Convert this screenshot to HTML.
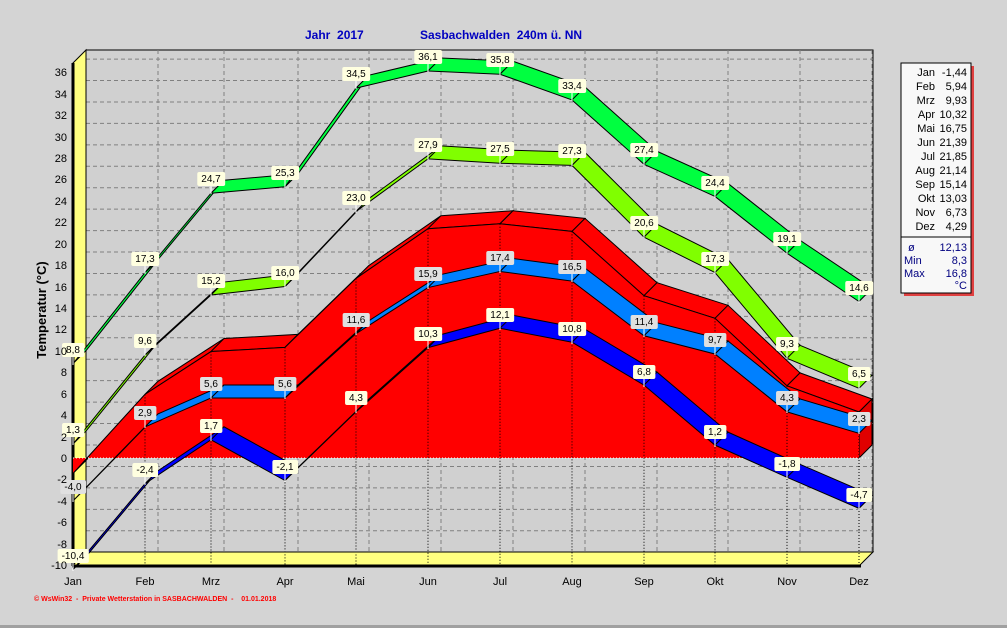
<!DOCTYPE html>
<html><head><meta charset="utf-8"><style>
html,body{margin:0;padding:0;background:#d4d4d4;}
svg{display:block;font-family:"Liberation Sans",sans-serif;}
.lb{font-size:10px;text-anchor:middle;}
.ax{font-size:11px;}
</style></head><body>
<svg id="s" width="1007" height="628" xmlns="http://www.w3.org/2000/svg">
<rect x="0" y="0" width="1007" height="628" fill="#d4d4d4"/>
<rect x="0" y="625" width="1007" height="3" fill="#a0a0a0"/>
<rect x="86" y="50" width="787" height="502" fill="#d0d0d0" stroke="#000" stroke-width="1"/>
<g id="grid" stroke="#808080" stroke-dasharray="4,3" stroke-width="1"></g>
<polygon points="73,63 86,50 86,552 73,565" fill="#ffff80" stroke="#000"/>
<polygon points="73,565 86,552 873,552 860,565" fill="#ffff80" stroke="#000"/>
<line x1="73" y1="63" x2="73" y2="566" stroke="#000" stroke-width="3"/>
<line x1="72" y1="566" x2="861" y2="566" stroke="#000" stroke-width="3"/>
<g id="series"></g>
<g id="labels">
<text class="lb" x="73" y="353">8,8</text><text class="lb" x="145" y="262">17,3</text><text class="lb" x="211" y="182">24,7</text><text class="lb" x="285" y="176">25,3</text><text class="lb" x="356" y="77">34,5</text><text class="lb" x="428" y="60">36,1</text><text class="lb" x="500" y="63">35,8</text><text class="lb" x="572" y="89">33,4</text><text class="lb" x="644" y="153">27,4</text><text class="lb" x="715" y="186">24,4</text><text class="lb" x="787" y="242">19,1</text><text class="lb" x="859" y="291">14,6</text>
<text class="lb" x="73" y="433">1,3</text><text class="lb" x="145" y="344">9,6</text><text class="lb" x="211" y="284">15,2</text><text class="lb" x="285" y="276">16,0</text><text class="lb" x="356" y="201">23,0</text><text class="lb" x="428" y="148">27,9</text><text class="lb" x="500" y="152">27,5</text><text class="lb" x="572" y="154">27,3</text><text class="lb" x="644" y="226">20,6</text><text class="lb" x="715" y="262">17,3</text><text class="lb" x="787" y="347">9,3</text><text class="lb" x="859" y="377">6,5</text>
<text class="lb g" x="73" y="490">-4,0</text><text class="lb g" x="145" y="416">2,9</text><text class="lb g" x="211" y="387">5,6</text><text class="lb g" x="285" y="387">5,6</text><text class="lb g" x="356" y="323">11,6</text><text class="lb g" x="428" y="277">15,9</text><text class="lb g" x="500" y="261">17,4</text><text class="lb g" x="572" y="270">16,5</text><text class="lb g" x="644" y="325">11,4</text><text class="lb g" x="715" y="343">9,7</text><text class="lb g" x="787" y="401">4,3</text><text class="lb g" x="859" y="422">2,3</text>
<text class="lb" x="73" y="559">-10,4</text><text class="lb" x="145" y="473">-2,4</text><text class="lb" x="211" y="429">1,7</text><text class="lb" x="285" y="470">-2,1</text><text class="lb" x="356" y="401">4,3</text><text class="lb" x="428" y="337">10,3</text><text class="lb" x="500" y="318">12,1</text><text class="lb" x="572" y="332">10,8</text><text class="lb" x="644" y="375">6,8</text><text class="lb" x="715" y="435">1,2</text><text class="lb" x="787" y="467">-1,8</text><text class="lb" x="859" y="498">-4,7</text>
</g>
<g class="ax" text-anchor="end">
<text x="67" y="76">36</text><text x="67" y="98">34</text><text x="67" y="119">32</text><text x="67" y="141">30</text><text x="67" y="162">28</text><text x="67" y="183">26</text><text x="67" y="205">24</text><text x="67" y="226">22</text><text x="67" y="248">20</text><text x="67" y="269">18</text><text x="67" y="291">16</text><text x="67" y="312">14</text><text x="67" y="333">12</text><text x="67" y="355">10</text><text x="67" y="376">8</text><text x="67" y="398">6</text><text x="67" y="419">4</text><text x="67" y="441">2</text><text x="67" y="462">0</text><text x="67" y="483">-2</text><text x="67" y="505">-4</text><text x="67" y="526">-6</text><text x="67" y="548">-8</text><text x="67" y="569">-10</text>
</g>
<g class="ax" text-anchor="middle">
<text x="73" y="585">Jan</text><text x="145" y="585">Feb</text><text x="211" y="585">Mrz</text><text x="285" y="585">Apr</text><text x="356" y="585">Mai</text><text x="428" y="585">Jun</text><text x="500" y="585">Jul</text><text x="572" y="585">Aug</text><text x="644" y="585">Sep</text><text x="715" y="585">Okt</text><text x="787" y="585">Nov</text><text x="859" y="585">Dez</text>
</g>
<text x="46" y="310" transform="rotate(-90 46 310)" text-anchor="middle" font-size="13" font-weight="bold">Temperatur  (°C)</text>
<text x="305" y="39" font-size="12" font-weight="bold" fill="#0000c0" xml:space="preserve">Jahr  2017</text>
<text x="420" y="39" font-size="12" font-weight="bold" fill="#0000c0" xml:space="preserve">Sasbachwalden  240m ü. NN</text>
<text x="34" y="601" font-size="7" font-weight="bold" fill="#ff0000" xml:space="preserve">© WsWin32  -  Private Wetterstation in SASBACHWALDEN  -    01.01.2018</text>
<rect x="904" y="66" width="70" height="230" fill="#e04040"/>
<rect x="901" y="63" width="70" height="230" fill="#f8f8f8" stroke="#000"/>
<line x1="901" y1="237" x2="971" y2="237" stroke="#000"/>
<g font-size="11" text-anchor="end">
<text x="935" y="76">Jan</text><text x="967" y="76">-1,44</text>
<text x="935" y="90">Feb</text><text x="967" y="90">5,94</text>
<text x="935" y="104">Mrz</text><text x="967" y="104">9,93</text>
<text x="935" y="118">Apr</text><text x="967" y="118">10,32</text>
<text x="935" y="132">Mai</text><text x="967" y="132">16,75</text>
<text x="935" y="146">Jun</text><text x="967" y="146">21,39</text>
<text x="935" y="160">Jul</text><text x="967" y="160">21,85</text>
<text x="935" y="174">Aug</text><text x="967" y="174">21,14</text>
<text x="935" y="188">Sep</text><text x="967" y="188">15,14</text>
<text x="935" y="202">Okt</text><text x="967" y="202">13,03</text>
<text x="935" y="216">Nov</text><text x="967" y="216">6,73</text>
<text x="935" y="230">Dez</text><text x="967" y="230">4,29</text>
</g>
<g font-size="11" fill="#000080">
<text x="908" y="251">ø</text><text x="904" y="264">Min</text><text x="904" y="277">Max</text>
<g text-anchor="end"><text x="967" y="251">12,13</text><text x="967" y="264">8,3</text><text x="967" y="277">16,8</text><text x="967" y="289">°C</text></g>
</g>
</svg>
<script>
var NS="http://www.w3.org/2000/svg";
var X=[73,145,211,285,356,428,500,572,644,715,787,859];
function Y(v){return 458-10.72*v;}
function el(t,a,p){var e=document.createElementNS(NS,t);for(var k in a)e.setAttribute(k,a[k]);p.appendChild(e);return e;}
var g=document.getElementById('grid');
for(var v=-8;v<=36;v+=2){var y=Y(v)-13;el('line',{x1:86,y1:y,x2:873,y2:y},g);}
for(var i=1;i<12;i++){el('line',{x1:X[i]+13,y1:50,x2:X[i]+13,y2:552},g);}
var s=document.getElementById('series');
function pts(a){return a.map(function(p){return p[0]+','+p[1];}).join(' ');}
var mean=[-1.44,5.94,9.93,10.32,16.75,21.39,21.85,21.14,15.14,13.03,6.73,4.29];
for(var i=0;i<11;i++){
 var a=[X[i],Y(mean[i])],b=[X[i+1],Y(mean[i+1])];
 el('polygon',{points:pts([a,b,[b[0]+13,b[1]-13],[a[0]+13,a[1]-13]]),fill:'#ff0000',stroke:'#000','stroke-width':1},s);
}
var d=[X[11],Y(mean[11])];
el('polygon',{points:pts([d,[d[0]+13,d[1]-13],[872,445],[859,458]]),fill:'#e00000',stroke:'#000'},s);
var fr=[];for(var i=0;i<12;i++)fr.push([X[i],Y(mean[i])]);
fr.push([859,458]);fr.push([73,458]);
el('polygon',{points:pts(fr),fill:'#ff0000'},s);
el('polyline',{points:pts(fr.slice(0,12)),fill:'none',stroke:'#000'},s);
el('line',{x1:73,y1:458,x2:873,y2:458,stroke:'#fff','stroke-dasharray':'1,2'},s);
for(var i=1;i<12;i++)el('line',{x1:X[i],y1:Y(mean[i]),x2:X[i],y2:565,stroke:'#000','stroke-dasharray':'1,2'},s);
function ribbon(vals,col){
 for(var i=0;i<11;i++){
  var a=[X[i],Y(vals[i])],b=[X[i+1],Y(vals[i+1])];
  el('polygon',{points:pts([a,b,[b[0]+13,b[1]-13],[a[0]+13,a[1]-13]]),fill:col,stroke:'#000','stroke-width':1},s);
 }
}
ribbon([8.8,17.3,24.7,25.3,34.5,36.1,35.8,33.4,27.4,24.4,19.1,14.6],'#00ff40');
ribbon([1.3,9.6,15.2,16.0,23.0,27.9,27.5,27.3,20.6,17.3,9.3,6.5],'#80ff00');
ribbon([-4.0,2.9,5.6,5.6,11.6,15.9,17.4,16.5,11.4,9.7,4.3,2.3],'#0080ff');
ribbon([-10.4,-2.4,1.7,-2.1,4.3,10.3,12.1,10.8,6.8,1.2,-1.8,-4.7],'#0000ff');
var L=document.getElementById('labels');
var ts=L.querySelectorAll('text');
for(var i=0;i<ts.length;i++){
 var t=ts[i],bb=t.getBBox();
 var gray=t.getAttribute('class').indexOf(' g')>=0;
 var x=+t.getAttribute('x'),y=+t.getAttribute('y');
 el('line',{x1:x,y1:y+3,x2:x,y2:y+12,stroke:'#fff'},L).parentNode.insertBefore(L.lastChild,t);
 var r=document.createElementNS(NS,'rect');
 r.setAttribute('x',bb.x-4);r.setAttribute('y',y-10);r.setAttribute('width',bb.width+8);r.setAttribute('height',14);
 r.setAttribute('rx',2);r.setAttribute('fill',gray?'#e0e0e0':'#ffffe0');
 L.insertBefore(r,t);
}
</script>
</body></html>
